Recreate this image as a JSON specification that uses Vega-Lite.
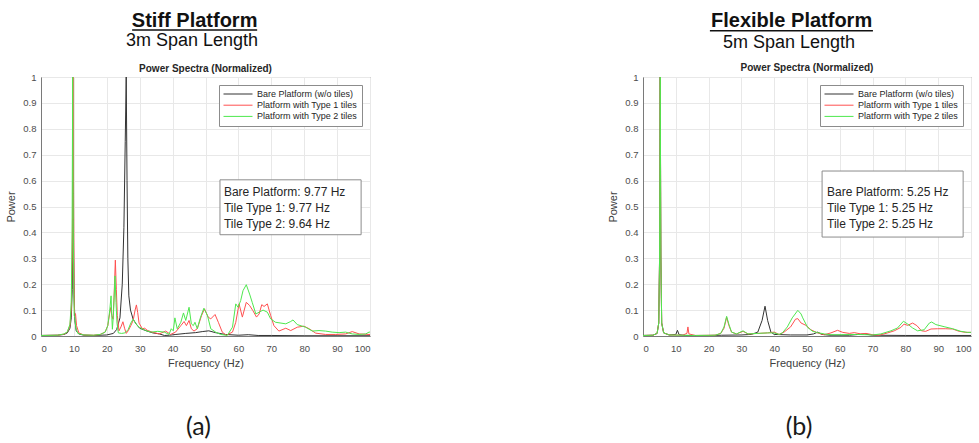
{
  "$schema": "https://vega.github.io/schema/vega-lite/v6.json",
  "background": "white",
  "padding": {"left": 5, "top": 10, "right": 0, "bottom": 0},
  "bounds": "flush",
  "spacing": 273,
  "config": {
    "font": "Liberation Sans",
    "view": {"stroke": "#7a7a7a", "strokeWidth": 1},
    "axis": {
      "labelFontSize": 9.5, "labelColor": "#4d4d4d", "labelFont": "Liberation Sans",
      "titleFontSize": 11, "titleFontWeight": "normal", "titleColor": "#404040", "titleFont": "Liberation Sans",
      "gridColor": "#e8e8e8", "domainColor": "#7a7a7a", "ticks": false
    },
    "axisX": {"titlePadding": 5, "labelPadding": 7},
    "axisY": {"titlePadding": 6, "labelPadding": 5},
    "legend": {
      "orient": "top-right", "offset": 8, "strokeColor": "#8c8c8c", "fillColor": "white", "padding": 4,
      "labelFontSize": 9, "labelColor": "#262626", "labelFont": "Liberation Sans",
      "symbolType": "stroke", "symbolSize": 841, "symbolStrokeWidth": 1, "labelOffset": 4,
      "clipHeight": 10, "rowPadding": 1.2
    }
  },
  "resolve": {"scale": {"color": "independent"}, "legend": {"color": "independent"}},
  "datasets": {
    "one": [{}],
    "a_b": [
      {"f":0,"p":0.002},{"f":5,"p":0.003},{"f":7,"p":0.006},{"f":8,"p":0.012},{"f":8.8,"p":0.03},{"f":9.2,"p":0.07},{"f":9.5,"p":0.18},{"f":9.65,"p":0.36},{"f":9.77,"p":0.6},{"f":9.9,"p":0.34},{"f":10.05,"p":0.16},{"f":10.3,"p":0.06},{"f":10.7,"p":0.02},{"f":11.5,"p":0.008},{"f":13,"p":0.003},{"f":16,"p":0.002},{"f":20,"p":0.004},{"f":22,"p":0.01},{"f":23,"p":0.025},{"f":24,"p":0.07},{"f":24.7,"p":0.2},{"f":25.2,"p":0.42},{"f":25.6,"p":0.75},{"f":25.9,"p":1.0},{"f":26.15,"p":0.6},{"f":26.4,"p":0.3},{"f":26.7,"p":0.155},{"f":27.2,"p":0.1},{"f":28,"p":0.065},{"f":29,"p":0.045},{"f":30,"p":0.03},{"f":32,"p":0.02},{"f":34,"p":0.012},{"f":36,"p":0.008},{"f":37.5,"p":0.002},{"f":39,"p":0.003},{"f":41,"p":0.006},{"f":44,"p":0.01},{"f":47,"p":0.013},{"f":49,"p":0.017},{"f":51,"p":0.02},{"f":53,"p":0.013},{"f":56,"p":0.006},{"f":60,"p":0.003},{"f":63,"p":0.005},{"f":66,"p":0.002},{"f":70,"p":0.002},{"f":80,"p":0.001},{"f":90,"p":0.001},{"f":100,"p":0.001}
    ],
    "a_1": [
      {"f":0,"p":0.002},{"f":5,"p":0.003},{"f":7,"p":0.007},{"f":8,"p":0.015},{"f":8.8,"p":0.04},{"f":9.2,"p":0.1},{"f":9.5,"p":0.3},{"f":9.65,"p":0.6},{"f":9.77,"p":1.0},{"f":9.9,"p":0.55},{"f":10.05,"p":0.2},{"f":10.2,"p":0.09},{"f":10.5,"p":0.085},{"f":10.8,"p":0.04},{"f":11.5,"p":0.012},{"f":13,"p":0.004},{"f":16,"p":0.003},{"f":18,"p":0.006},{"f":19.5,"p":0.015},{"f":20.3,"p":0.04},{"f":20.9,"p":0.09},{"f":21.2,"p":0.11},{"f":21.5,"p":0.08},{"f":21.9,"p":0.065},{"f":22.2,"p":0.15},{"f":22.6,"p":0.293},{"f":22.9,"p":0.18},{"f":23.2,"p":0.08},{"f":23.7,"p":0.02},{"f":24.3,"p":0.035},{"f":24.9,"p":0.055},{"f":25.4,"p":0.03},{"f":25.9,"p":0.01},{"f":26.5,"p":0.02},{"f":27.3,"p":0.04},{"f":28,"p":0.06},{"f":28.6,"p":0.1},{"f":29,"p":0.12},{"f":29.4,"p":0.09},{"f":29.8,"p":0.05},{"f":30.8,"p":0.028},{"f":31.5,"p":0.03},{"f":32.3,"p":0.022},{"f":33.8,"p":0.015},{"f":35.9,"p":0.008},{"f":37.9,"p":0.019},{"f":39.4,"p":0.006},{"f":40.9,"p":0.015},{"f":42.5,"p":0.04},{"f":43.5,"p":0.056},{"f":44.2,"p":0.04},{"f":45,"p":0.06},{"f":45.7,"p":0.028},{"f":46.5,"p":0.019},{"f":47.5,"p":0.028},{"f":48.8,"p":0.079},{"f":49.7,"p":0.105},{"f":50.8,"p":0.073},{"f":51.6,"p":0.066},{"f":52.9,"p":0.083},{"f":53.9,"p":0.053},{"f":55.1,"p":0.015},{"f":56.3,"p":0.003},{"f":58.2,"p":0.015},{"f":59.2,"p":0.053},{"f":60.2,"p":0.124},{"f":61.2,"p":0.073},{"f":62.4,"p":0.13},{"f":63.4,"p":0.118},{"f":64.4,"p":0.098},{"f":65.5,"p":0.073},{"f":66.3,"p":0.085},{"f":67.1,"p":0.121},{"f":67.8,"p":0.114},{"f":68.8,"p":0.124},{"f":69.8,"p":0.079},{"f":70.8,"p":0.04},{"f":72.3,"p":0.019},{"f":74.4,"p":0.03},{"f":75.9,"p":0.021},{"f":77.9,"p":0.034},{"f":79.9,"p":0.038},{"f":81.5,"p":0.028},{"f":83.5,"p":0.011},{"f":86.5,"p":0.006},{"f":89.6,"p":0.006},{"f":92.6,"p":0.008},{"f":94.6,"p":0.017},{"f":96.7,"p":0.008},{"f":99.7,"p":0.006},{"f":100,"p":0.006}
    ],
    "a_2": [
      {"f":0,"p":0.002},{"f":5,"p":0.003},{"f":7,"p":0.008},{"f":8,"p":0.016},{"f":8.8,"p":0.045},{"f":9.2,"p":0.13},{"f":9.45,"p":0.4},{"f":9.64,"p":1.0},{"f":9.8,"p":0.45},{"f":9.95,"p":0.18},{"f":10.1,"p":0.08},{"f":10.3,"p":0.07},{"f":10.6,"p":0.03},{"f":11.2,"p":0.01},{"f":13,"p":0.004},{"f":16,"p":0.003},{"f":18,"p":0.006},{"f":19.5,"p":0.015},{"f":20.3,"p":0.04},{"f":20.9,"p":0.1},{"f":21.3,"p":0.155},{"f":21.5,"p":0.08},{"f":21.7,"p":0.026},{"f":22.0,"p":0.08},{"f":22.5,"p":0.232},{"f":22.8,"p":0.13},{"f":23.1,"p":0.05},{"f":23.5,"p":0.012},{"f":24.5,"p":0.01},{"f":25.5,"p":0.012},{"f":26.5,"p":0.025},{"f":27.3,"p":0.05},{"f":28,"p":0.065},{"f":28.7,"p":0.05},{"f":29.8,"p":0.034},{"f":31.8,"p":0.021},{"f":33.5,"p":0.015},{"f":35.5,"p":0.018},{"f":37.5,"p":0.015},{"f":38.9,"p":0.006},{"f":39.6,"p":0.028},{"f":40.2,"p":0.02},{"f":40.7,"p":0.07},{"f":41.4,"p":0.028},{"f":42.5,"p":0.053},{"f":43.3,"p":0.089},{"f":44,"p":0.06},{"f":45,"p":0.111},{"f":45.7,"p":0.047},{"f":46.3,"p":0.04},{"f":46.8,"p":0.053},{"f":47.5,"p":0.028},{"f":48.5,"p":0.073},{"f":49.5,"p":0.107},{"f":50.6,"p":0.079},{"f":51.6,"p":0.028},{"f":53.1,"p":0.015},{"f":54.6,"p":0.006},{"f":56.6,"p":0.002},{"f":58.2,"p":0.034},{"f":59.2,"p":0.124},{"f":59.9,"p":0.111},{"f":60.7,"p":0.137},{"f":61.4,"p":0.175},{"f":62.4,"p":0.198},{"f":63.4,"p":0.162},{"f":64.2,"p":0.13},{"f":65.3,"p":0.085},{"f":66.3,"p":0.092},{"f":67.5,"p":0.1},{"f":68.8,"p":0.092},{"f":69.8,"p":0.066},{"f":71.3,"p":0.053},{"f":74.4,"p":0.047},{"f":75.9,"p":0.056},{"f":76.6,"p":0.062},{"f":77.9,"p":0.044},{"f":80.4,"p":0.034},{"f":82.5,"p":0.019},{"f":84.5,"p":0.021},{"f":86.5,"p":0.019},{"f":88.5,"p":0.015},{"f":90.6,"p":0.013},{"f":92.6,"p":0.015},{"f":94.6,"p":0.008},{"f":96.7,"p":0.006},{"f":98.7,"p":0.008},{"f":99.7,"p":0.015},{"f":100,"p":0.015}
    ],
    "b_b": [
      {"f":0,"p":0.002},{"f":3,"p":0.003},{"f":4.3,"p":0.01},{"f":4.8,"p":0.05},{"f":5.05,"p":0.3},{"f":5.25,"p":1.0},{"f":5.45,"p":0.3},{"f":5.7,"p":0.05},{"f":6.3,"p":0.012},{"f":8,"p":0.004},{"f":10,"p":0.006},{"f":10.5,"p":0.022},{"f":11,"p":0.005},{"f":13,"p":0.002},{"f":20,"p":0.002},{"f":24,"p":0.003},{"f":30,"p":0.004},{"f":33,"p":0.006},{"f":35,"p":0.015},{"f":36.3,"p":0.06},{"f":37.2,"p":0.115},{"f":38,"p":0.06},{"f":39,"p":0.015},{"f":40,"p":0.006},{"f":45,"p":0.004},{"f":50,"p":0.004},{"f":52,"p":0.008},{"f":53.3,"p":0.015},{"f":54.5,"p":0.006},{"f":57,"p":0.003},{"f":63,"p":0.003},{"f":67.5,"p":0.008},{"f":70,"p":0.003},{"f":80,"p":0.002},{"f":90,"p":0.002},{"f":100,"p":0.002}
    ],
    "b_1": [
      {"f":0,"p":0.002},{"f":3,"p":0.003},{"f":4.3,"p":0.01},{"f":4.8,"p":0.05},{"f":5.05,"p":0.3},{"f":5.25,"p":1.0},{"f":5.45,"p":0.3},{"f":5.7,"p":0.05},{"f":6.3,"p":0.012},{"f":8,"p":0.004},{"f":12,"p":0.003},{"f":13.4,"p":0.01},{"f":13.7,"p":0.035},{"f":14.0,"p":0.008},{"f":16,"p":0.002},{"f":22,"p":0.003},{"f":23.7,"p":0.01},{"f":24.7,"p":0.03},{"f":25.5,"p":0.072},{"f":26.2,"p":0.04},{"f":27,"p":0.015},{"f":28.5,"p":0.008},{"f":30.5,"p":0.018},{"f":32,"p":0.008},{"f":35,"p":0.01},{"f":38,"p":0.012},{"f":40,"p":0.015},{"f":41.5,"p":0.006},{"f":43,"p":0.015},{"f":45,"p":0.035},{"f":46.5,"p":0.065},{"f":47.2,"p":0.067},{"f":48.2,"p":0.05},{"f":49.7,"p":0.041},{"f":51.2,"p":0.024},{"f":53.2,"p":0.012},{"f":55.3,"p":0.005},{"f":57.3,"p":0.012},{"f":59.3,"p":0.022},{"f":60.9,"p":0.014},{"f":62.9,"p":0.01},{"f":64.4,"p":0.013},{"f":66.4,"p":0.008},{"f":68,"p":0.01},{"f":70,"p":0.005},{"f":72,"p":0.003},{"f":74.6,"p":0.012},{"f":76.6,"p":0.02},{"f":78.6,"p":0.033},{"f":79.6,"p":0.046},{"f":80.7,"p":0.041},{"f":82.2,"p":0.05},{"f":83.5,"p":0.04},{"f":84.9,"p":0.02},{"f":86.2,"p":0.018},{"f":87.8,"p":0.027},{"f":89.8,"p":0.028},{"f":92.3,"p":0.028},{"f":94.4,"p":0.027},{"f":96.4,"p":0.018},{"f":98.4,"p":0.014},{"f":100,"p":0.014}
    ],
    "b_2": [
      {"f":0,"p":0.002},{"f":3,"p":0.003},{"f":4.3,"p":0.01},{"f":4.8,"p":0.05},{"f":5.05,"p":0.3},{"f":5.25,"p":1.0},{"f":5.45,"p":0.3},{"f":5.7,"p":0.05},{"f":6.3,"p":0.012},{"f":8,"p":0.004},{"f":12,"p":0.003},{"f":16,"p":0.002},{"f":22,"p":0.003},{"f":23.7,"p":0.01},{"f":24.7,"p":0.035},{"f":25.5,"p":0.076},{"f":26.2,"p":0.045},{"f":27,"p":0.015},{"f":28.5,"p":0.008},{"f":30.5,"p":0.02},{"f":32,"p":0.008},{"f":35,"p":0.01},{"f":38,"p":0.012},{"f":40,"p":0.012},{"f":41.5,"p":0.006},{"f":42.5,"p":0.012},{"f":44,"p":0.035},{"f":45.5,"p":0.07},{"f":47.2,"p":0.099},{"f":48.2,"p":0.085},{"f":48.7,"p":0.07},{"f":50.2,"p":0.033},{"f":51.7,"p":0.018},{"f":53.2,"p":0.013},{"f":55.3,"p":0.008},{"f":57.3,"p":0.005},{"f":60.4,"p":0.005},{"f":65,"p":0.006},{"f":70,"p":0.004},{"f":72.5,"p":0.008},{"f":75.6,"p":0.02},{"f":77.6,"p":0.031},{"f":79.4,"p":0.057},{"f":80.7,"p":0.046},{"f":82.2,"p":0.031},{"f":83.7,"p":0.02},{"f":85.7,"p":0.024},{"f":87.3,"p":0.05},{"f":88,"p":0.054},{"f":89.3,"p":0.044},{"f":91.8,"p":0.036},{"f":94.4,"p":0.028},{"f":96.9,"p":0.018},{"f":98.9,"p":0.014},{"f":100,"p":0.014}
    ]
  },
  "hconcat": [
    {
      "width": 329, "height": 259,
      "title": {"text": "(a)", "orient": "bottom", "fontSize": 25, "font": "Lato", "fontWeight": "normal", "color": "#1a1a1a", "offset": 46, "dx": -7},
      "encoding": {
        "x": {"type": "quantitative", "scale": {"domain": [0, 100], "nice": false},
              "axis": {"title": "Frequency (Hz)", "values": [0,10,20,30,40,50,60,70,80,90,100], "grid": true}},
        "y": {"type": "quantitative", "scale": {"domain": [0, 1], "nice": false},
              "axis": {"title": "Power", "values": [0,0.1,0.2,0.3,0.4,0.5,0.6,0.7,0.8,0.9,1], "format": "~g", "grid": true}}
      },
      "layer": [
        {"data": {"name": "a_b"}, "mark": {"type": "line", "strokeWidth": 1, "clip": true},
         "encoding": {"x": {"field": "f", "type": "quantitative"}, "y": {"field": "p", "type": "quantitative"},
           "color": {"datum": "Bare Platform (w/o tiles)", "type": "nominal",
             "scale": {"domain": ["Bare Platform (w/o tiles)", "Platform with Type 1 tiles", "Platform with Type 2 tiles"], "range": ["#333333", "#ff5050", "#4ee84e"]},
             "legend": {"title": null}}}},
        {"data": {"name": "a_1"}, "mark": {"type": "line", "strokeWidth": 1, "clip": true},
         "encoding": {"x": {"field": "f", "type": "quantitative"}, "y": {"field": "p", "type": "quantitative"},
           "color": {"datum": "Platform with Type 1 tiles", "type": "nominal"}}},
        {"data": {"name": "a_2"}, "mark": {"type": "line", "strokeWidth": 1, "clip": true},
         "encoding": {"x": {"field": "f", "type": "quantitative"}, "y": {"field": "p", "type": "quantitative"},
           "color": {"datum": "Platform with Type 2 tiles", "type": "nominal"}}},
        {"data": {"name": "one"}, "mark": {"type": "rect", "fill": "white", "stroke": "#8c8c8c", "strokeWidth": 1},
         "encoding": {"x": {"datum": 54.4}, "x2": {"datum": 97.3}, "y": {"datum": 0.391}, "y2": {"datum": 0.603}}},
        {"data": {"name": "one"}, "mark": {"type": "text", "text": ["Bare Platform: 9.77 Hz", "Tile Type 1: 9.77 Hz", "Tile Type 2: 9.64 Hz"], "fontSize": 12, "lineHeight": 16, "align": "left", "baseline": "alphabetic", "color": "#262626"},
         "encoding": {"x": {"datum": 55.6}, "y": {"datum": 0.541}}},
        {"data": {"name": "one"}, "mark": {"type": "text", "text": "Power Spectra (Normalized)", "fontSize": 10, "fontWeight": "bold", "align": "center", "baseline": "alphabetic", "color": "#262626"},
         "encoding": {"x": {"datum": 50}, "y": {"datum": 1.019}}},
        {"data": {"name": "one"}, "mark": {"type": "text", "text": "Stiff Platform", "fontSize": 20, "fontWeight": "bold", "align": "center", "baseline": "alphabetic", "color": "#111111"},
         "encoding": {"x": {"datum": 46.7}, "y": {"datum": 1.193}}},
        {"data": {"name": "one"}, "mark": {"type": "rule", "color": "#111111", "strokeWidth": 1.5},
         "encoding": {"x": {"datum": 27.7}, "x2": {"datum": 65.7}, "y": {"datum": 1.181}}},
        {"data": {"name": "one"}, "mark": {"type": "text", "text": "3m Span Length", "fontSize": 18, "align": "center", "baseline": "alphabetic", "color": "#111111"},
         "encoding": {"x": {"datum": 45.9}, "y": {"datum": 1.121}}}
      ]
    },
    {
      "width": 328, "height": 259,
      "title": {"text": "(b)", "orient": "bottom", "fontSize": 25, "font": "Lato", "fontWeight": "normal", "color": "#1a1a1a", "offset": 46, "dx": -8},
      "encoding": {
        "x": {"type": "quantitative", "scale": {"domain": [0, 100], "nice": false},
              "axis": {"title": "Frequency (Hz)", "values": [0,10,20,30,40,50,60,70,80,90,100], "grid": true}},
        "y": {"type": "quantitative", "scale": {"domain": [0, 1], "nice": false},
              "axis": {"title": "Power", "values": [0,0.1,0.2,0.3,0.4,0.5,0.6,0.7,0.8,0.9,1], "format": "~g", "grid": true}}
      },
      "layer": [
        {"data": {"name": "b_b"}, "mark": {"type": "line", "strokeWidth": 1, "clip": true},
         "encoding": {"x": {"field": "f", "type": "quantitative"}, "y": {"field": "p", "type": "quantitative"},
           "color": {"datum": "Bare Platform (w/o tiles)", "type": "nominal",
             "scale": {"domain": ["Bare Platform (w/o tiles)", "Platform with Type 1 tiles", "Platform with Type 2 tiles"], "range": ["#333333", "#ff5050", "#4ee84e"]},
             "legend": {"title": null}}}},
        {"data": {"name": "b_1"}, "mark": {"type": "line", "strokeWidth": 1, "clip": true},
         "encoding": {"x": {"field": "f", "type": "quantitative"}, "y": {"field": "p", "type": "quantitative"},
           "color": {"datum": "Platform with Type 1 tiles", "type": "nominal"}}},
        {"data": {"name": "b_2"}, "mark": {"type": "line", "strokeWidth": 1, "clip": true},
         "encoding": {"x": {"field": "f", "type": "quantitative"}, "y": {"field": "p", "type": "quantitative"},
           "color": {"datum": "Platform with Type 2 tiles", "type": "nominal"}}},
        {"data": {"name": "one"}, "mark": {"type": "rect", "fill": "white", "stroke": "#8c8c8c", "strokeWidth": 1},
         "encoding": {"x": {"datum": 54.6}, "x2": {"datum": 97.6}, "y": {"datum": 0.382}, "y2": {"datum": 0.637}}},
        {"data": {"name": "one"}, "mark": {"type": "text", "text": ["Bare Platform: 5.25 Hz", "Tile Type 1: 5.25 Hz", "Tile Type 2: 5.25 Hz"], "fontSize": 12, "lineHeight": 16, "align": "left", "baseline": "alphabetic", "color": "#262626"},
         "encoding": {"x": {"datum": 56.1}, "y": {"datum": 0.541}}},
        {"data": {"name": "one"}, "mark": {"type": "text", "text": "Power Spectra (Normalized)", "fontSize": 10, "fontWeight": "bold", "align": "center", "baseline": "alphabetic", "color": "#262626"},
         "encoding": {"x": {"datum": 50}, "y": {"datum": 1.023}}},
        {"data": {"name": "one"}, "mark": {"type": "text", "text": "Flexible Platform", "fontSize": 20, "fontWeight": "bold", "align": "center", "baseline": "alphabetic", "color": "#111111"},
         "encoding": {"x": {"datum": 45.3}, "y": {"datum": 1.193}}},
        {"data": {"name": "one"}, "mark": {"type": "rule", "color": "#111111", "strokeWidth": 1.5},
         "encoding": {"x": {"datum": 20.4}, "x2": {"datum": 70.1}, "y": {"datum": 1.179}}},
        {"data": {"name": "one"}, "mark": {"type": "text", "text": "5m Span Length", "fontSize": 18, "align": "center", "baseline": "alphabetic", "color": "#111111"},
         "encoding": {"x": {"datum": 44.5}, "y": {"datum": 1.112}}}
      ]
    }
  ]
}
